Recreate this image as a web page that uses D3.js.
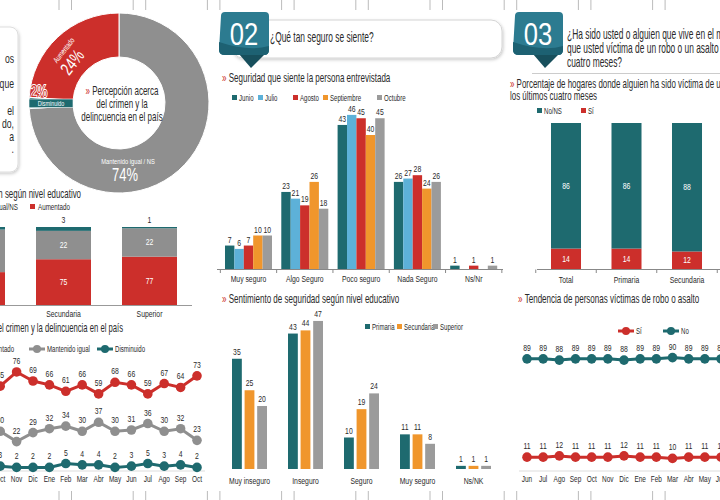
<!DOCTYPE html>
<html><head><meta charset="utf-8">
<script src="https://cdn.jsdelivr.net/npm/d3@7"></script>
<style>
body{margin:0;background:#fff}
svg{display:block}
text{font-family:"Liberation Sans",Arial,sans-serif}
</style></head>
<body><svg id="c" width="720" height="500"></svg>
<script>
// ---------------- DATA ----------------
const donutLabels = ["Mantenido igual / NS", "Disminuido", "Aumentado"];
const donutValues = [74, 2, 24];

const eduCats = ["Primaria", "Secundaria", "Superior"];
const eduAumentado = [65, 75, 77];
const eduMantenido = [33, 22, 22];
const eduDisminuido = [2, 3, 1];

const trendMonths = ["Oct","Nov","Dic","Ene","Feb","Mar","Abr","May","Jun","Jul","Ago","Sep","Oct"];
const trendAumentado = [65, 76, 69, 66, 61, 66, 59, 68, 66, 59, 67, 64, 73];
const trendMantenido = [30, 22, 29, 32, 34, 30, 37, 30, 31, 36, 30, 32, 23];
const trendDisminuido = [3, 2, 2, 2, 5, 4, 4, 2, 3, 5, 3, 4, 2];

const secCats = ["Muy seguro", "Algo Seguro", "Poco seguro", "Nada Seguro", "Ns/Nr"];
const secMonths = ["Junio", "Julio", "Agosto", "Septiembre", "Octubre"];
const secJunio = [7, 23, 43, 26, 1];
const secJulio = [6, 21, 46, 27, null];
const secAgosto = [7, 19, 45, 28, 1];
const secSeptiembre = [10, 26, 40, 24, null];
const secOctubre = [10, 18, 45, 26, 1];

const nivCats = ["Muy inseguro", "Inseguro", "Seguro", "Muy seguro", "Ns/NK"];
const nivSeries = ["Primaria", "Secundaria", "Superior"];
const nivPrimaria = [35, 43, 10, 11, 1];
const nivSecundaria = [25, 44, 19, 11, 1];
const nivSuperior = [20, 47, 24, 8, 1];

const vicCats = ["Total", "Primaria", "Secundaria"];
const vicNo = [86, 86, 88];
const vicSi = [14, 14, 12];

const tendMonths = ["Jun","Jul","Ago","Sep","Oct","Nov","Dic","Ene","Feb","Mar","Abr","May","Jun"];
const tendSi = [11, 11, 12, 11, 11, 11, 12, 11, 11, 10, 11, 11, 11];
const tendNo = [89, 89, 88, 89, 89, 89, 88, 89, 89, 90, 89, 89, 89];

// ---------------- STYLE ----------------
const RED = "#cc2f2b", GRAY = "#8f8f8f", TEAL = "#1e6a6f", LBLUE = "#5db1d8", ORANGE = "#f0962c", GRAY2 = "#9b9b9b", INK = "#2a2a2a";
const SX = 0.72; // condensed look
const svg = d3.select("#c");

function T(p, x, y, s, size, fill, anchor, rot, sx) {
  return p.append("text").attr("x", 0).attr("y", 0).attr("font-size", size)
    .attr("transform", `translate(${x},${y})` + (rot ? ` rotate(${rot})` : "") + ` scale(${sx || SX},1)`)
    .attr("fill", fill || INK).attr("text-anchor", anchor || "start").text(s);
}
function title(x, y, s, anchor, size, sx) {
  const t = svg.append("text").attr("x", 0).attr("y", 0).attr("font-size", size || 11.5)
    .attr("transform", `translate(${x},${y}) scale(${sx || SX},1)`)
    .attr("fill", INK).attr("text-anchor", anchor || "start");
  t.append("tspan").attr("fill", RED).text("» ");
  t.append("tspan").text(s);
  return t;
}

// defs: shadow
const defs = svg.append("defs");
const f = defs.append("filter").attr("id", "sh").attr("x", "-10%").attr("y", "-20%").attr("width", "130%").attr("height", "160%");
f.append("feDropShadow").attr("dx", 1).attr("dy", 1.5).attr("stdDeviation", 1.5).attr("flood-color", "#000").attr("flood-opacity", 0.2);

// crop marks
d3.range(9).forEach(i => {
  [0, 12.5].forEach(o => {
    const x = 59 + i * 74.2 + o;
    svg.append("line").attr("x1", x).attr("x2", x).attr("y1", 0).attr("y2", 10).attr("stroke", "#aaa").attr("stroke-width", 0.8);
    svg.append("line").attr("x1", x).attr("x2", x).attr("y1", 491).attr("y2", 500).attr("stroke", "#aaa").attr("stroke-width", 0.8);
  });
});

// ================= LEFT PANEL =================
svg.append("rect").attr("x", -20).attr("y", 27).attr("width", 38).attr("height", 145).attr("rx", 8)
  .attr("fill", "#fff").attr("stroke", "#ddd").attr("filter", "url(#sh)");
[["os", 63], ["que", 88], ["el", 115], ["do,", 128], ["a", 141], [".", 153]].forEach(d => T(svg, 14, d[1], d[0], 12, INK, "end"));

// donut
const pieData = d3.pie().sort(null).value(d => d)(donutValues);
const arc = d3.arc().innerRadius(46).outerRadius(90);
const dg = svg.append("g").attr("transform", "translate(119,103)");
dg.selectAll("path").data(pieData).join("path").attr("d", arc)
  .attr("fill", (d, i) => [GRAY, TEAL, RED][i]).attr("stroke", "#fff").attr("stroke-width", 1);
T(svg, 66, 52, donutLabels[2], 8, "#fff", "middle", -52);
T(svg, 77, 66, "24%", 18, "#fff", "middle", -52);
T(svg, 39, 97, "2%", 16, RED, "middle").attr("stroke", "#fff").attr("stroke-width", 2).attr("paint-order", "stroke");
svg.append("rect").attr("x", 29).attr("y", 99).attr("width", 44).attr("height", 8.5).attr("fill", TEAL).attr("stroke", "#fff").attr("stroke-width", 0.6);
T(svg, 51, 106, donutLabels[1], 7.5, "#fff", "middle");
T(svg, 128, 164, donutLabels[0], 8, "#fff", "middle");
T(svg, 125, 181, "74%", 18, "#fff", "middle");
const CSX = 0.64;
const ct = svg.append("text").attr("x", 0).attr("y", 0).attr("font-size", 12.5).attr("text-anchor", "middle").attr("fill", INK)
  .attr("transform", `translate(122,95) scale(${CSX},1)`);
ct.append("tspan").attr("fill", RED).text("» ");
ct.append("tspan").text("Percepción acerca");
T(svg, 122, 108, "del crimen y la", 12.5, INK, "middle", 0, CSX);
T(svg, 122, 121, "delincuencia en el país", 12.5, INK, "middle", 0, CSX);

// stacked bars by education (clipped left)
title(81, 198, "Percepción según nivel educativo", "end", 12, 0.66);
svg.append("rect").attr("x", -40).attr("y", 204).attr("width", 5).attr("height", 5).attr("fill", GRAY);
T(svg, 18, 209.5, "Mantenido igual/NS", 9.5, INK, "end", 0, 0.66);
svg.append("rect").attr("x", 30).attr("y", 204).attr("width", 5).attr("height", 5).attr("fill", RED);
T(svg, 38, 209.5, "Aumentado", 9.5, INK, "start", 0, 0.66);

const ex = d3.scalePoint().domain(eduCats).range([-22.5, 149.5]);
const ey = d3.scaleLinear().domain([39.5, 100]).range([305, 227]).clamp(true);
const EW = 55;
eduCats.forEach((c, i) => {
  const x = ex(c) - EW / 2;
  const a = eduAumentado[i], m = eduMantenido[i], d = eduDisminuido[i];
  svg.append("rect").attr("x", x).attr("width", EW).attr("y", ey(a)).attr("height", ey(0) - ey(a)).attr("fill", RED);
  svg.append("rect").attr("x", x).attr("width", EW).attr("y", ey(a + m)).attr("height", ey(a) - ey(a + m)).attr("fill", GRAY);
  svg.append("rect").attr("x", x).attr("width", EW).attr("y", ey(a + m + d)).attr("height", ey(a + m) - ey(a + m + d)).attr("fill", TEAL);
  T(svg, ex(c), (ey(a) + ey(0)) / 2 + 3, a, 9.5, "#fff", "middle");
  T(svg, ex(c), (ey(a) + ey(a + m)) / 2 + 3, m, 9.5, "#fff", "middle");
  T(svg, ex(c), ey(a + m + d) - 4, d, 9.5, INK, "middle");
  T(svg, ex(c), 317, c, 9.5, INK, "middle");
});
svg.append("line").attr("x1", 0).attr("x2", 192).attr("y1", 305.5).attr("y2", 305.5).attr("stroke", "#999").attr("stroke-width", 1);

// left trend lines
title(123, 332, "Tendencia de la percepción acerca del crimen y la delincuencia en el país", "end", 12, 0.64);
function legLine(x, y, color, label) {
  svg.append("line").attr("x1", x).attr("x2", x + 16).attr("y1", y).attr("y2", y).attr("stroke", color).attr("stroke-width", 3);
  svg.append("circle").attr("cx", x + 8).attr("cy", y).attr("r", 4).attr("fill", color);
  T(svg, x + 18, y + 3, label, 9.5, INK, "start", 0, 0.64);
}
legLine(-35, 349, RED, "Aumentado");
legLine(29, 349, GRAY, "Mantenido igual");
legLine(97, 349, TEAL, "Disminuido");

const lx = d3.scalePoint().domain(d3.range(trendMonths.length)).range([0.2, 197]);
const ly = d3.scaleLinear().domain([0, 100]).range([470, 341]);
svg.append("line").attr("x1", 0).attr("x2", 205).attr("y1", 471).attr("y2", 471).attr("stroke", "#ddd");
function series(vals, xs, ys, color) {
  const line = d3.line().x((d, i) => xs(i)).y(d => ys(d));
  svg.append("path").datum(vals).attr("d", line).attr("fill", "none").attr("stroke", color).attr("stroke-width", 3);
  vals.forEach((v, i) => {
    svg.append("circle").attr("cx", xs(i)).attr("cy", ys(v)).attr("r", 4.8).attr("fill", color);
    T(svg, xs(i), ys(v) - 8, v, 9.5, INK, "middle");
  });
}
series(trendAumentado, lx, ly, RED);
series(trendMantenido, lx, ly, GRAY);
series(trendDisminuido, lx, ly, TEAL);
trendMonths.forEach((m, i) => T(svg, lx(i), 482, m, 9, INK, "middle"));

// ================= HEADERS =================
function badge(x, y, num) {
  svg.append("path").attr("d", `M${x + 20},${y + 42} L${x + 46},${y + 42} L${x + 32},${y + 56} Z`).attr("fill", "#174f5c");
  svg.append("path").attr("d", `M${x + 2},${y + 4} Q${x + 2},${y} ${x + 6},${y} L${x + 46},${y} Q${x + 50},${y} ${x + 50},${y + 4} L${x + 50},${y + 38} Q${x + 50},${y + 43} ${x + 45},${y + 43} L${x + 6},${y + 43} Q${x},${y + 43} ${x},${y + 38} Z`)
    .attr("fill", "#2c7b90");
  svg.append("path").attr("d", `M${x},${y + 30} L${x},${y + 38} Q${x},${y + 43} ${x + 6},${y + 43} L${x + 45},${y + 43} Q${x + 50},${y + 43} ${x + 50},${y + 38} L${x + 50},${y + 34} Q${x + 30},${y + 40} ${x},${y + 30} Z`)
    .attr("fill", "#1d6172");
  T(svg, x + 25, y + 33, num, 32, "#fff", "middle", 0, 0.8);
}
svg.append("rect").attr("x", 232).attr("y", 20).attr("width", 270).attr("height", 38).attr("rx", 11)
  .attr("fill", "#fff").attr("stroke", "#d4d4d4").attr("filter", "url(#sh)");
badge(219, 12, "02");
const HSX = 0.6;
T(svg, 270, 42, "¿Qué tan seguro se siente?", 14, INK, "start", 0, HSX);

badge(513, 12, "03");
T(svg, 567, 39, "¿Ha sido usted o alguien que vive en el mismo hogar", 14, INK, "start", 0, HSX);
T(svg, 567, 53, "que usted víctima de un robo o un asalto en los últimos", 14, INK, "start", 0, HSX);
T(svg, 567, 67, "cuatro meses?", 14, INK, "start", 0, HSX);
svg.append("line").attr("x1", 532).attr("x2", 720).attr("y1", 73.5).attr("y2", 73.5).attr("stroke", "#ccc");

// ================= MIDDLE: security by month =================
title(222, 82, "Seguridad que siente la persona entrevistada", "start", 12, 0.67);
const secColors = [TEAL, LBLUE, RED, ORANGE, GRAY2];
const secLegX = [232, 258, 293, 323, 377];
secMonths.forEach((m, i) => {
  svg.append("rect").attr("x", secLegX[i]).attr("y", 95).attr("width", 5).attr("height", 5).attr("fill", secColors[i]);
  T(svg, secLegX[i] + 7, 100.5, m, 9.5, INK, "start", 0, 0.64);
});
const secData = [secJunio, secJulio, secAgosto, secSeptiembre, secOctubre];
const sx0 = d3.scaleBand().domain(secCats).range([220.35, 501.85]).paddingInner(0.165).paddingOuter(0.0825);
const sx1 = d3.scaleBand().domain(secMonths).range([0, sx0.bandwidth()]);
const sy = d3.scaleLinear().domain([0, 50]).range([269, 101.5]);
secCats.forEach((c, ci) => {
  secMonths.forEach((m, mi) => {
    const v = secData[mi][ci];
    if (v == null) return;
    const x = sx0(c) + sx1(m);
    svg.append("rect").attr("x", x).attr("width", sx1.bandwidth()).attr("y", sy(v)).attr("height", sy(0) - sy(v)).attr("fill", secColors[mi]);
    T(svg, x + sx1.bandwidth() / 2, sy(v) - 3, v, 9.5, INK, "middle");
  });
  T(svg, sx0(c) + sx0.bandwidth() / 2, 282, c, 9.5, INK, "middle");
});
svg.append("line").attr("x1", 217).attr("x2", 503).attr("y1", 269.5).attr("y2", 269.5).attr("stroke", "#888");
secCats.concat(["_end"]).forEach((c, i) => {
  const x = (i < secCats.length ? sx0(c) : sx0(secCats[secCats.length - 1]) + sx0.step()) - (sx0.step() - sx0.bandwidth()) / 2;
  svg.append("line").attr("x1", x).attr("x2", x).attr("y1", 269.5).attr("y2", 273).attr("stroke", "#888");
});

// ================= MIDDLE: security by education =================
title(222, 303, "Sentimiento de seguridad según nivel educativo", "start", 12, 0.67);
const nivColors = [TEAL, ORANGE, GRAY2];
const nivLegX = [365, 397, 433];
nivSeries.forEach((s, i) => {
  svg.append("rect").attr("x", nivLegX[i]).attr("y", 324).attr("width", 5).attr("height", 5).attr("fill", nivColors[i]);
  T(svg, nivLegX[i] + 7, 329.5, s, 9.5, INK, "start", 0, 0.64);
});
const nivData = [nivPrimaria, nivSecundaria, nivSuperior];
const nx0 = d3.scaleBand().domain(nivCats).range([221.5, 501.5]).paddingInner(0.375).paddingOuter(0.1875);
const nx1 = d3.scaleBand().domain(nivSeries).range([0, nx0.bandwidth()]).paddingInner(0.22);
const ny = d3.scaleLinear().domain([0, 50]).range([469, 311.5]);
nivCats.forEach((c, ci) => {
  nivSeries.forEach((s, si) => {
    const v = nivData[si][ci];
    const x = nx0(c) + nx1(s);
    svg.append("rect").attr("x", x).attr("width", nx1.bandwidth()).attr("y", ny(v)).attr("height", ny(0) - ny(v)).attr("fill", nivColors[si]);
    T(svg, x + nx1.bandwidth() / 2, ny(v) - 4, v, 9.5, INK, "middle");
  });
  T(svg, nx0(c) + nx0.bandwidth() / 2, 484, c, 9.5, INK, "middle");
});

// ================= RIGHT: victims stacked =================
title(510, 88, "Porcentaje de hogares donde alguien ha sido víctima de un robo o asalto en", "start", 12, 0.66);
T(svg, 510, 100, "los últimos cuatro meses", 12, INK, "start", 0, 0.66);
svg.append("rect").attr("x", 537).attr("y", 108).attr("width", 5).attr("height", 5).attr("fill", TEAL);
T(svg, 544, 113.5, "No/NS", 9.5, INK, "start", 0, 0.64);
svg.append("rect").attr("x", 581).attr("y", 108).attr("width", 5).attr("height", 5).attr("fill", RED);
T(svg, 588, 113.5, "Sí", 9.5, INK, "start", 0, 0.64);
const vx = d3.scaleBand().domain(vicCats).range([535.75, 717.25]).paddingInner(0.504).paddingOuter(0.252);
const vy = d3.scaleLinear().domain([0, 100]).range([269, 123]);
vicCats.forEach((c, i) => {
  const x = vx(c), w = vx.bandwidth();
  svg.append("rect").attr("x", x).attr("width", w).attr("y", vy(vicSi[i])).attr("height", vy(0) - vy(vicSi[i])).attr("fill", RED);
  svg.append("rect").attr("x", x).attr("width", w).attr("y", vy(vicSi[i] + vicNo[i])).attr("height", vy(vicSi[i]) - vy(vicSi[i] + vicNo[i])).attr("fill", TEAL);
  T(svg, x + w / 2, (vy(0) + vy(vicSi[i])) / 2 + 3, vicSi[i], 9.5, "#fff", "middle");
  T(svg, x + w / 2, (vy(vicSi[i]) + vy(100)) / 2 + 3, vicNo[i], 9.5, "#fff", "middle");
  T(svg, x + w / 2, 283, c, 9.5, INK, "middle");
});
svg.append("line").attr("x1", 537).attr("x2", 720).attr("y1", 269.5).attr("y2", 269.5).attr("stroke", "#888");
vicCats.concat(["_e"]).forEach((c, i) => {
  const x = (i < vicCats.length ? vx(c) : vx(vicCats[vicCats.length - 1]) + vx.step()) - (vx.step() - vx.bandwidth()) / 2;
  svg.append("line").attr("x1", x).attr("x2", x).attr("y1", 269.5).attr("y2", 273).attr("stroke", "#888");
});

// ================= RIGHT: victims trend =================
title(518, 303, "Tendencia de personas víctimas de robo o asalto", "start", 12, 0.67);
legLine(618, 331, RED, "Sí");
legLine(663, 331, TEAL, "No");
const tx = d3.scalePoint().domain(d3.range(tendMonths.length)).range([527, 721]);
const ty = d3.scaleLinear().domain([0, 100]).range([471, 345]);
svg.append("line").attr("x1", 519).attr("x2", 720).attr("y1", 471).attr("y2", 471).attr("stroke", "#ddd");
series(tendNo, tx, ty, TEAL);
series(tendSi, tx, ty, RED);
tendMonths.forEach((m, i) => T(svg, tx(i), 482, m, 9, INK, "middle"));
</script></body></html>
